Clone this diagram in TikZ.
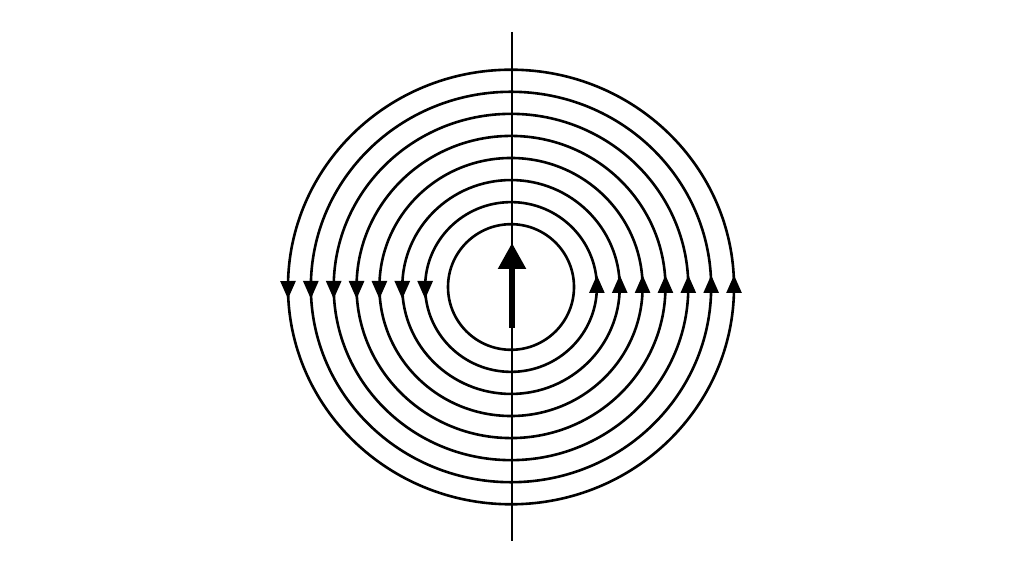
\documentclass[tikz,border=0pt]{standalone}
\usepackage{tikz}
\usetikzlibrary{arrows.meta, decorations.markings}

\begin{document}
\begin{tikzpicture}[x=1pt, y=1pt]
\tikzstyle{ring} = [line width=2.6pt, black]
\tikzstyle{ringflow} = [ring, postaction={decorate}, decoration={markings,
  mark=at position 0.25 with {\arrow[xshift=12pt]{Triangle[width=15pt,length=18pt]}},
  mark=at position 0.75 with {\arrow[xshift=12pt]{Triangle[width=15pt,length=18pt]}}}]
\tikzstyle{axis} = [line width=2.4pt, black]
\tikzstyle{pointer} = [line width=5.5pt, -{Triangle[width=27pt,length=26pt]}]

\useasboundingbox (0,0) rectangle (1024,572);
\coordinate (c) at (511,285);

% Axis
\coordinate (top) at (512,540);
\coordinate (bot) at (512,31);
\draw [axis] (top) -- (bot);

% Rings
\draw [ring] (c) ellipse [x radius=63, y radius=62.8];
\foreach \k in {1,...,7} {
  \pgfmathsetmacro{\rx}{63+22.86*\k}
  \pgfmathsetmacro{\ry}{62.8+22.07*\k}
  \draw [ringflow] (c) ++(0,-\ry) arc [start angle=-90, end angle=270, x radius=\rx, y radius=\ry];
}

% Arrow
\coordinate (tail) at (512,244);
\coordinate (head) at (512,329);
\draw [pointer] (tail) -- (head);

\end{tikzpicture}
\end{document}
